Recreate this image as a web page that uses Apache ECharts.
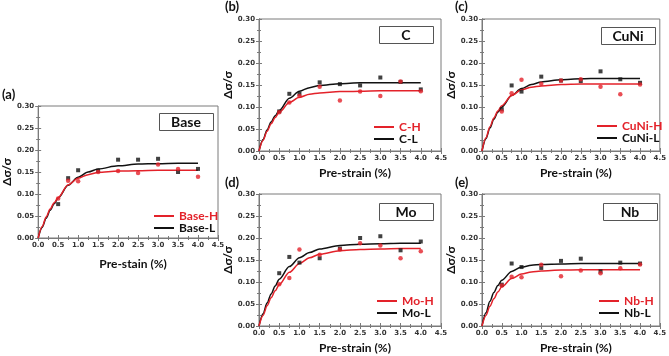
<!DOCTYPE html>
<html lang="en">
<head>
    <meta charset="UTF-8">
    <script src="https://cdn.jsdelivr.net/npm/echarts@6/dist/echarts.min.js"></script>
    <title>Pre-strain</title>
</head>
<body style="margin:0;background:#fff;">
<div id="chart" style="width:669px;height:356px;"></div>
<script type="text/javascript">
    // measured pre-strain levels (%)
    var strainPts = [0.5, 0.75, 1.0, 1.5, 2.0, 2.5, 3.0, 3.5, 4.0];
    // x positions of the fitted curves
    var fitX = [0, 0.1, 0.2, 0.3, 0.4, 0.5, 0.75, 1.0, 1.25, 1.5, 2.0, 2.5, 3.0, 3.5, 4.0];

    var baseH = [0.090, 0.130, 0.129, 0.150, 0.152, 0.148, 0.167, 0.157, 0.139];
    var baseL = [0.077, 0.136, 0.154, 0.153, 0.178, 0.178, 0.180, 0.150, 0.157];
    var baseHFit = [0, 0.026, 0.048, 0.066, 0.080, 0.092, 0.121, 0.136, 0.144, 0.149, 0.152, 0.153, 0.154, 0.154, 0.154];
    var baseLFit = [0, 0.024, 0.045, 0.063, 0.078, 0.091, 0.120, 0.138, 0.150, 0.157, 0.164, 0.168, 0.169, 0.170, 0.170];

    var cH = [0.088, 0.110, 0.125, 0.146, 0.115, 0.135, 0.125, 0.158, 0.136];
    var cL = [0.090, 0.130, 0.130, 0.156, 0.152, 0.149, 0.167, 0.157, 0.140];
    var cHFit = [0, 0.024, 0.045, 0.062, 0.076, 0.088, 0.110, 0.122, 0.129, 0.132, 0.135, 0.136, 0.137, 0.137, 0.137];
    var cLFit = [0, 0.026, 0.048, 0.066, 0.080, 0.092, 0.120, 0.136, 0.144, 0.149, 0.153, 0.155, 0.155, 0.155, 0.155];

    var cuniH = [0.090, 0.131, 0.162, 0.153, 0.160, 0.163, 0.146, 0.129, 0.151];
    var cuniL = [0.095, 0.149, 0.135, 0.169, 0.160, 0.159, 0.181, 0.163, 0.155];
    var cuniHFit = [0, 0.030, 0.055, 0.075, 0.091, 0.103, 0.126, 0.139, 0.145, 0.148, 0.151, 0.152, 0.152, 0.152, 0.152];
    var cuniLFit = [0, 0.028, 0.052, 0.072, 0.088, 0.100, 0.126, 0.142, 0.151, 0.157, 0.162, 0.164, 0.165, 0.165, 0.165];

    var moH = [0.095, 0.109, 0.174, 0.162, 0.174, 0.188, 0.183, 0.154, 0.170];
    var moL = [0.120, 0.157, 0.144, 0.154, 0.176, 0.200, 0.204, 0.172, 0.192];
    var moHFit = [0, 0.024, 0.046, 0.064, 0.080, 0.094, 0.122, 0.142, 0.155, 0.163, 0.171, 0.174, 0.175, 0.176, 0.176];
    var moLFit = [0, 0.028, 0.052, 0.073, 0.091, 0.106, 0.135, 0.155, 0.167, 0.175, 0.183, 0.186, 0.187, 0.188, 0.188];

    var nbH = [0.092, 0.112, 0.111, 0.139, 0.113, 0.126, 0.120, 0.131, 0.140];
    var nbL = [0.094, 0.142, 0.134, 0.132, 0.148, 0.153, 0.124, 0.144, 0.142];
    var nbHFit = [0, 0.024, 0.045, 0.062, 0.077, 0.089, 0.108, 0.118, 0.123, 0.125, 0.127, 0.128, 0.128, 0.128, 0.128];
    var nbLFit = [0, 0.030, 0.056, 0.076, 0.092, 0.104, 0.124, 0.134, 0.138, 0.140, 0.141, 0.142, 0.142, 0.142, 0.142];

    var RED = '#e3222a';
    var BLACK = '#111111';
    var FRAME = '#7a7a7a';

    var panels = [
        {tag: '(a)', name: 'Base', xName: 'Pre-stain (%)', h: baseH, l: baseL, hFit: baseHFit, lFit: baseLFit,
            grid: [38, 106, 180, 132], tagPos: [2, 88], box: [159, 113], legend: [154, 210], xGap: 20},
        {tag: '(b)', name: 'C', xName: 'Pre-strain (%)', h: cH, l: cL, hFit: cHFit, lFit: cLFit,
            grid: [259, 19, 182, 132], tagPos: [225, 0], box: [379, 26], legend: [374, 121], xGap: 16},
        {tag: '(c)', name: 'CuNi', xName: 'Pre-strain (%)', h: cuniH, l: cuniL, hFit: cuniHFit, lFit: cuniLFit,
            grid: [482, 19, 180, 132], tagPos: [455, 0], box: [601, 27], legend: [597, 120], xGap: 16},
        {tag: '(d)', name: 'Mo', xName: 'Pre-strain (%)', h: moH, l: moL, hFit: moHFit, lFit: moLFit,
            grid: [259, 194, 182, 132], tagPos: [225, 176], box: [379, 203], legend: [377, 295], xGap: 16},
        {tag: '(e)', name: 'Nb', xName: 'Pre-strain (%)', h: nbH, l: nbL, hFit: nbHFit, lFit: nbLFit,
            grid: [482, 194, 180, 132], tagPos: [455, 176], box: [603, 203], legend: [599, 295], xGap: 16}
    ];

    function pairs(xs, ys) {
        return ys.map(function (y, i) { return [xs[i], y]; });
    }

    var tickLabel = {fontSize: 7, fontWeight: 'bold', color: '#333', fontFamily: 'DejaVu Sans'};
    var nameStyle = {fontSize: 12, fontWeight: 'bold', color: '#111', fontFamily: 'Lato'};

    var grids = [], xAxes = [], yAxes = [], series = [], legends = [], graphics = [];

    panels.forEach(function (p, i) {
        grids.push({left: p.grid[0], top: p.grid[1], width: p.grid[2], height: p.grid[3],
            show: true, borderColor: FRAME, borderWidth: 1});

        var xBase = {
            gridIndex: i, type: 'value', min: 0, max: 4.5, interval: 0.5,
            splitLine: {show: false},
            axisLine: {lineStyle: {color: FRAME, width: 1}},
            axisTick: {inside: true, length: 3, lineStyle: {color: FRAME}},
            minorTick: {show: true, splitNumber: 2, length: 2, lineStyle: {color: FRAME}}
        };
        var yBase = {
            gridIndex: i, type: 'value', min: 0, max: 0.3, interval: 0.05,
            splitLine: {show: false},
            axisLine: {lineStyle: {color: FRAME, width: 1}},
            axisTick: {inside: true, length: 3, lineStyle: {color: FRAME}},
            minorTick: {show: true, splitNumber: 2, length: 2, lineStyle: {color: FRAME}}
        };
        // bottom / left axes with labels
        xAxes.push(Object.assign({}, xBase, {
            position: 'bottom',
            axisLabel: Object.assign({margin: 4, formatter: function (v) { return v.toFixed(1); }}, tickLabel),
            name: p.xName, nameLocation: 'middle', nameGap: p.xGap,
            nameTextStyle: Object.assign({padding: [0, 0, 0, 10]}, nameStyle)
        }));
        // top mirror
        xAxes.push(Object.assign({}, xBase, {position: 'top', axisLabel: {show: false}}));
        yAxes.push(Object.assign({}, yBase, {
            position: 'left',
            axisLabel: Object.assign({margin: 4, formatter: function (v) { return v.toFixed(2); }}, tickLabel),
            name: 'Δσ/σ', nameLocation: 'middle', nameGap: 22, nameTextStyle: nameStyle
        }));
        yAxes.push(Object.assign({}, yBase, {position: 'right', axisLabel: {show: false}}));

        var xi = 2 * i, yi = 2 * i;
        series.push({
            name: p.name + '-L', type: 'line', xAxisIndex: xi, yAxisIndex: yi,
            data: pairs(fitX, p.lFit), smooth: 0.3, smoothMonotone: 'x', showSymbol: false, symbol: 'none',
            lineStyle: {color: BLACK, width: 1.5}, itemStyle: {color: BLACK}, z: 2
        });
        series.push({
            name: p.name + '-H', type: 'line', xAxisIndex: xi, yAxisIndex: yi,
            data: pairs(fitX, p.hFit), smooth: 0.3, smoothMonotone: 'x', showSymbol: false, symbol: 'none',
            lineStyle: {color: RED, width: 1.5}, itemStyle: {color: RED}, z: 3
        });
        series.push({
            name: p.name + '-L data', type: 'scatter', xAxisIndex: xi, yAxisIndex: yi,
            data: pairs(strainPts, p.l), symbol: 'rect', symbolSize: 4,
            itemStyle: {color: BLACK}, z: 4
        });
        series.push({
            name: p.name + '-H data', type: 'scatter', xAxisIndex: xi, yAxisIndex: yi,
            data: pairs(strainPts, p.h), symbol: 'circle', symbolSize: 4.5,
            itemStyle: {color: RED}, z: 5
        });

        legends.push({
            data: [{name: p.name + '-H', textStyle: {color: RED}}, {name: p.name + '-L'}],
            orient: 'vertical', left: p.legend[0], top: p.legend[1],
            itemWidth: 20, itemHeight: 2, itemGap: 0, icon: 'rect', selectedMode: false, padding: 0,
            textStyle: {fontSize: 12, fontWeight: 'bold', color: BLACK, fontFamily: 'Lato'}
        });

        graphics.push({
            type: 'rect', left: p.box[0], top: p.box[1],
            shape: {width: 54, height: 17},
            style: {fill: '#fff', stroke: '#555', lineWidth: 1}, z: 10
        });
        graphics.push({
            type: 'text', x: p.box[0] + 27, y: p.box[1] + 9,
            style: {text: p.name, fill: '#111', font: 'bold 14px Lato', textAlign: 'center', textVerticalAlign: 'middle'},
            z: 11
        });
        graphics.push({
            type: 'text', left: p.tagPos[0], top: p.tagPos[1],
            style: {text: p.tag, fill: '#111', font: 'bold 13px Lato'}, z: 11
        });
    });

    var myChart = echarts.init(document.getElementById('chart'));
    myChart.setOption({
        animation: false,
        grid: grids,
        xAxis: xAxes,
        yAxis: yAxes,
        series: series,
        legend: legends,
        graphic: graphics
    });
</script>
</body>
</html>
